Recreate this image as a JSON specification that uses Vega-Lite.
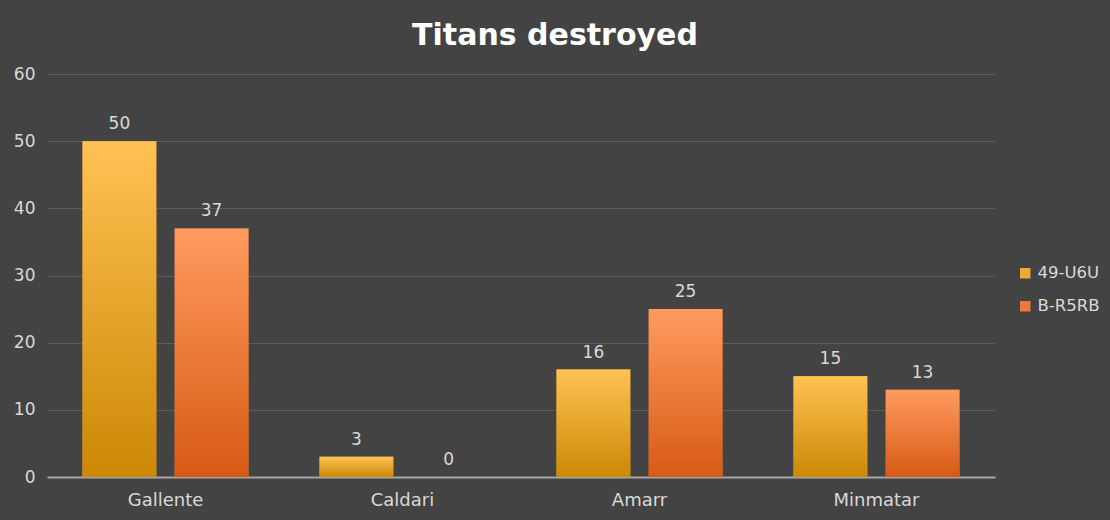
{
  "$schema": "https://vega.github.io/schema/vega-lite/v6.json",
  "autosize": "none",
  "width": 948,
  "height": 403,
  "padding": {"left": 47, "top": 74, "right": 115, "bottom": 43},
  "background": "#434343",
  "title": {
    "text": "Titans destroyed",
    "font": "DejaVu Sans",
    "fontSize": 30,
    "fontWeight": "bold",
    "color": "#ffffff",
    "anchor": "middle",
    "dx": 34,
    "offset": 14
  },
  "data": {
    "values": [
      {"faction": "Gallente", "system": "49-U6U", "titans": 50},
      {"faction": "Gallente", "system": "B-R5RB", "titans": 37},
      {"faction": "Caldari", "system": "49-U6U", "titans": 3},
      {"faction": "Caldari", "system": "B-R5RB", "titans": 0},
      {"faction": "Amarr", "system": "49-U6U", "titans": 16},
      {"faction": "Amarr", "system": "B-R5RB", "titans": 25},
      {"faction": "Minmatar", "system": "49-U6U", "titans": 15},
      {"faction": "Minmatar", "system": "B-R5RB", "titans": 13}
    ]
  },
  "encoding": {
    "x": {
      "field": "faction",
      "type": "nominal",
      "sort": ["Gallente", "Caldari", "Amarr", "Minmatar"],
      "scale": {"paddingInner": 0.3, "paddingOuter": 0.15},
      "axis": {"title": null, "labelAngle": 0, "labelFontSize": 18, "ticks": false, "domain": true, "domainColor": "#a6a6a6", "domainWidth": 2, "labelPadding": 14}
    },
    "xOffset": {
      "field": "system",
      "type": "nominal",
      "scale": {"paddingInner": 0.2, "paddingOuter": 0}
    },
    "y": {
      "field": "titans",
      "type": "quantitative",
      "scale": {"domain": [0, 60]},
      "axis": {"title": null, "values": [0, 10, 20, 30, 40, 50, 60], "labelOverlap": false, "ticks": false, "domain": false, "labelPadding": 12}
    }
  },
  "layer": [
    {
      "mark": {"type": "bar"},
      "encoding": {
        "color": {
          "field": "system",
          "type": "nominal",
          "title": null,
          "scale": {"domain": ["49-U6U", "B-R5RB"], "range": ["#f0a830", "#eb7a3a"]},
          "legend": {
            "orient": "none",
            "legendX": 970,
            "legendY": 191,
            "symbolType": "square",
            "symbolSize": 110,
            "symbolStrokeWidth": 0,
            "labelFontSize": 16.5,
            "labelColor": "#d9d9d9",
            "labelFont": "DejaVu Sans",
            "rowPadding": 16
          }
        }
      }
    },
    {
      "mark": {"type": "bar"},
      "encoding": {
        "fill": {
          "condition": {
            "test": "datum.system === '49-U6U'",
            "value": {
              "gradient": "linear", "x1": 0, "y1": 0, "x2": 0, "y2": 1,
              "stops": [{"offset": 0, "color": "#ffc253"}, {"offset": 1, "color": "#cc8805"}]
            }
          },
          "value": {
            "gradient": "linear", "x1": 0, "y1": 0, "x2": 0, "y2": 1,
            "stops": [{"offset": 0, "color": "#ff9b5f"}, {"offset": 1, "color": "#d75a14"}]
          }
        }
      }
    },
    {
      "mark": {"type": "text", "baseline": "bottom", "dy": -8, "font": "DejaVu Sans", "fontSize": 17, "color": "#d9d9d9"},
      "encoding": {"text": {"field": "titans", "type": "quantitative"}}
    }
  ],
  "config": {
    "view": {"stroke": null},
    "axis": {
      "labelFont": "DejaVu Sans",
      "labelFontSize": 17,
      "labelColor": "#d9d9d9",
      "gridColor": "#5c5c5c",
      "gridWidth": 1
    },
    "axisX": {"grid": false}
  }
}
